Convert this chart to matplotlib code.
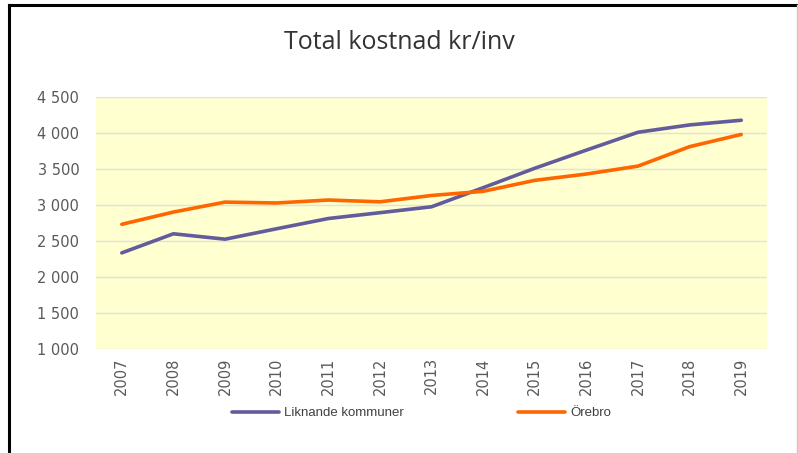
import matplotlib.pyplot as plt
from matplotlib.lines import Line2D
from matplotlib.ticker import FuncFormatter

# Data
years = ['2007', '2008', '2009', '2010', '2011', '2012', '2013',
         '2014', '2015', '2016', '2017', '2018', '2019']
liknande = [2335, 2600, 2525, 2670, 2812, 2893, 2975,
            3240, 3510, 3762, 4010, 4112, 4177]
orebro = [2732, 2902, 3040, 3028, 3069, 3044, 3132,
          3190, 3342, 3430, 3540, 3810, 3980]

fig = plt.figure(figsize=(7.98, 4.53), dpi=100)
ax = fig.add_axes([0.1203, 0.2296, 0.8409, 0.5563])

x = range(len(years))
ax.plot(x, liknande, color='#625c9c', lw=2.6, solid_capstyle='round',
        label='Liknande kommuner')
ax.plot(x, orebro, color='#ff6600', lw=2.6, solid_capstyle='round',
        label='Örebro')

ax.set_facecolor('#ffffd0')
ax.set_xlim(-0.5, len(years) - 0.5)
ax.set_ylim(1000, 4500)
ax.set_yticks(range(1000, 4501, 500))
ax.yaxis.set_major_formatter(FuncFormatter(lambda v, p: f'{int(v):,}'.replace(',', ' ')))
ax.set_xticks(list(x))
ax.set_xticklabels(years, rotation=90)
ax.grid(axis='y', color='#e2e2d8', lw=1)
ax.set_axisbelow(True)
for s in ax.spines.values():
    s.set_visible(False)
ax.tick_params(length=0, colors='#595959', labelsize=10.5)
ax.tick_params(axis='y', pad=12)
ax.tick_params(axis='x', pad=6)

fig.text(0.5, 0.907, 'Total kostnad kr/inv', ha='center', va='center',
         fontsize=18, color='#333333', family='Open Sans')

leg = fig.legend(loc='center', bbox_to_anchor=(0.528, 0.088), ncol=2,
                 frameon=False, handlelength=3.6,
                 columnspacing=8.6, handletextpad=0.4,
                 prop={'family': 'Liberation Sans', 'size': 9.5})
for t in leg.get_texts():
    t.set_color('#404040')

# outer frame
fig.add_artist(Line2D([0.0113, 0.0113], [0, 0.989], color='black', lw=2.2,
                      transform=fig.transFigure))
fig.add_artist(Line2D([0.0113, 0.999], [0.989, 0.989], color='black', lw=2.2,
                      transform=fig.transFigure))
fig.add_artist(Line2D([0.9985, 0.9985], [0, 0.989], color='#c8c8c8', lw=1,
                      transform=fig.transFigure))

fig.savefig('out.png', dpi=100)
